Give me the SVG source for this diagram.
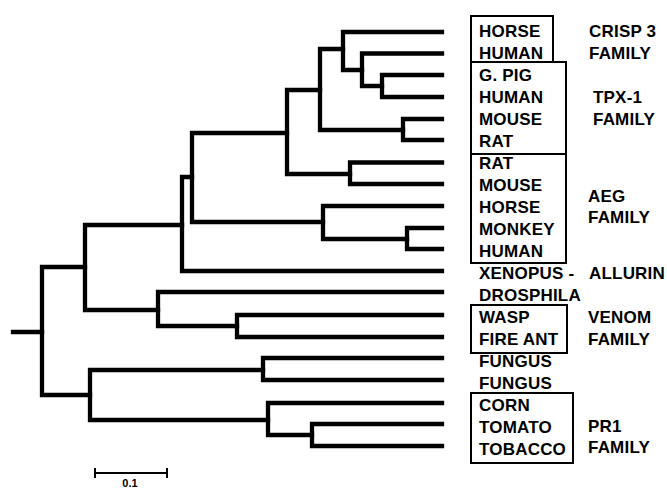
<svg xmlns="http://www.w3.org/2000/svg" width="667" height="489" viewBox="0 0 667 489">
<style>
.br{fill:none;stroke:#000;stroke-width:4.3;stroke-linecap:square;stroke-linejoin:miter}
.lb{font-family:"Liberation Sans",Arial,Helvetica,sans-serif;font-weight:bold;font-size:17px;letter-spacing:0.2px;fill:#000}
.bx{fill:none;stroke:#000;stroke-width:2}
.sc{fill:none;stroke:#000;stroke-width:2}
</style>
<rect width="667" height="489" fill="#fff"/>
<g id="connectors">
<path class="br" d="M13 332H42"/>
<path class="br" d="M85 267H42V395H90"/>
<path class="br" d="M182 225H85V310H158"/>
<path class="br" d="M192 177H182V271H442"/>
<path class="br" d="M287 133H192V222H323"/>
<path class="br" d="M320 90H287V174H350"/>
<path class="br" d="M343 49H320V130H403"/>
<path class="br" d="M442 32H343V70H362"/>
<path class="br" d="M442 53.5H362V86H382"/>
<path class="br" d="M442 75H382V97H442"/>
<path class="br" d="M442 119H403V140H442"/>
<path class="br" d="M442 162.5H350V184H442"/>
<path class="br" d="M442 206H323V239H407"/>
<path class="br" d="M442 228H407V249H442"/>
<path class="br" d="M442 292H158V326H237"/>
<path class="br" d="M442 315H237V337H442"/>
<path class="br" d="M263 370H90V420H268"/>
<path class="br" d="M442 358H263V380H442"/>
<path class="br" d="M442 403H268V435H312"/>
<path class="br" d="M442 424H312V446H442"/>
</g>
<g id="family-boxes">
<rect class="bx" x="471" y="16" width="82" height="46"/>
<rect class="bx" x="471" y="62" width="95" height="92"/>
<rect class="bx" x="471" y="154" width="95" height="109"/>
<rect class="bx" x="471" y="305" width="96" height="48"/>
<rect class="bx" x="471" y="393" width="102" height="70"/>
</g>
<g id="leaf-horse-crisp"><text class="lb" x="479" y="37">HORSE</text></g>
<g id="leaf-human-crisp"><text class="lb" x="479" y="59">HUMAN</text></g>
<g id="leaf-gpig-tpx"><text class="lb" x="479" y="81">G. PIG</text></g>
<g id="leaf-human-tpx"><text class="lb" x="479" y="103">HUMAN</text></g>
<g id="leaf-mouse-tpx"><text class="lb" x="479" y="125">MOUSE</text></g>
<g id="leaf-rat-tpx"><text class="lb" x="479" y="147">RAT</text></g>
<g id="leaf-rat-aeg"><text class="lb" x="479" y="169">RAT</text></g>
<g id="leaf-mouse-aeg"><text class="lb" x="479" y="191">MOUSE</text></g>
<g id="leaf-horse-aeg"><text class="lb" x="479" y="213">HORSE</text></g>
<g id="leaf-monkey-aeg"><text class="lb" x="479" y="235">MONKEY</text></g>
<g id="leaf-human-aeg"><text class="lb" x="479" y="257">HUMAN</text></g>
<g id="leaf-xenopus"><text class="lb" x="479" y="279">XENOPUS -</text><text class="lb" x="589" y="279">ALLURIN</text></g>
<g id="leaf-drosphila"><text class="lb" x="479" y="301">DROSPHILA</text></g>
<g id="leaf-wasp"><text class="lb" x="479" y="323">WASP</text></g>
<g id="leaf-fireant"><text class="lb" x="479" y="345">FIRE ANT</text></g>
<g id="leaf-fungus1"><text class="lb" x="479" y="367">FUNGUS</text></g>
<g id="leaf-fungus2"><text class="lb" x="479" y="389">FUNGUS</text></g>
<g id="leaf-corn"><text class="lb" x="479" y="411">CORN</text></g>
<g id="leaf-tomato"><text class="lb" x="479" y="433">TOMATO</text></g>
<g id="leaf-tobacco"><text class="lb" x="479" y="455">TOBACCO</text></g>
<g id="family-crisp3"><text class="lb" x="589" y="37">CRISP 3</text><text class="lb" x="589" y="59">FAMILY</text></g>
<g id="family-tpx1"><text class="lb" x="593" y="103">TPX-1</text><text class="lb" x="593" y="125">FAMILY</text></g>
<g id="family-aeg"><text class="lb" x="588" y="202">AEG</text><text class="lb" x="588" y="223">FAMILY</text></g>
<g id="family-venom"><text class="lb" x="588" y="323">VENOM</text><text class="lb" x="588" y="345">FAMILY</text></g>
<g id="family-pr1"><text class="lb" x="588" y="432">PR1</text><text class="lb" x="588" y="453">FAMILY</text></g>
<g id="scale-bar">
<path class="sc" d="M95 473H167M95 468V478M167 468V478"/>
<text class="lb" x="130" y="487" text-anchor="middle" style="font-size:11px;letter-spacing:0">0.1</text>
</g>
</svg>
